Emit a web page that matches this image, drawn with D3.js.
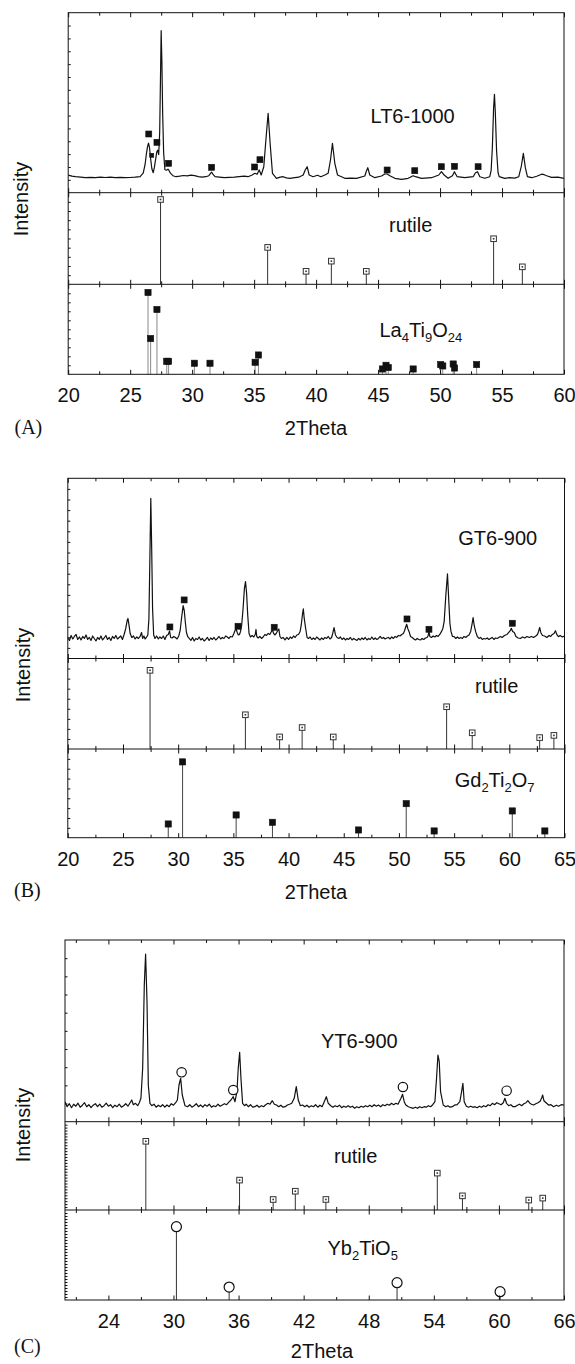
<!DOCTYPE html>
<html><head><meta charset="utf-8">
<script src="https://cdn.jsdelivr.net/npm/d3@7"></script>
<style>body{margin:0;background:#fff}svg{display:block}</style>
</head><body><svg id="c" width="575" height="1364"></svg>
<script>
// ---------------- DATA (2Theta, intensity a.u.) ----------------
const lt6Pattern = [[20.0,17.5],[20.3,16.5],[20.6,16],[21.0,15.5],[21.4,15],[21.8,15.3],[22.2,15],[22.6,15.5],[23.0,15.2],[23.4,15.6],[23.8,15],[24.2,15.3],[24.6,15],[25.0,15.2],[25.4,15.5],[25.8,16],[26.05,19.5],[26.2,28],[26.3,38],[26.4,46],[26.48,49.5],[26.56,45],[26.65,34],[26.75,24],[26.86,20],[26.95,25],[27.05,33],[27.15,41],[27.22,42.5],[27.3,38],[27.38,60],[27.44,110],[27.5,162],[27.56,130],[27.62,80],[27.7,40],[27.8,23],[27.93,22.5],[28.05,23.5],[28.12,22.5],[28.25,19.5],[28.45,17],[28.7,16],[29.0,16.5],[29.3,17.2],[29.6,16.8],[29.9,17.5],[30.2,17],[30.5,16],[30.8,15.5],[31.1,16],[31.35,17],[31.5,19.5],[31.58,20.5],[31.7,18],[31.85,16],[32.2,15.5],[32.6,15],[33.0,15.3],[33.4,15.5],[33.8,16],[34.2,16.5],[34.5,16],[34.8,17.5],[35.06,19.4],[35.24,18.4],[35.41,22.7],[35.57,17.7],[35.78,26],[35.97,56],[36.13,79.4],[36.29,49.4],[36.48,19.4],[36.8,14.4],[37.1,15.5],[37.34,16],[37.6,14.8],[37.88,14.4],[38.29,15],[38.6,15.5],[38.96,17.7],[39.12,22.7],[39.28,26],[39.44,17.7],[39.76,16],[40.11,17.4],[40.38,16],[40.71,17.7],[40.97,19.4],[41.16,32.7],[41.32,49.4],[41.51,29.4],[41.73,17.7],[42.32,14.4],[42.8,14.6],[43.26,14.4],[43.93,16.7],[44.04,21],[44.17,25],[44.33,17.7],[44.74,15],[45.28,16.7],[45.54,18.7],[45.73,18.7],[45.95,17],[46.35,14.4],[46.89,13.4],[47.43,14.4],[47.83,17],[48.02,16],[48.5,14.4],[49.31,15],[49.9,17.7],[50.11,21],[50.33,17.7],[50.65,14.4],[51.0,17],[51.16,21],[51.38,16],[52.0,15],[52.67,16],[52.86,20],[53.02,21],[53.21,16],[53.61,14.4],[54.01,16],[54.12,22],[54.22,45],[54.32,85],[54.39,98.4],[54.46,80],[54.56,42],[54.68,20],[54.77,16],[55.22,14.4],[55.6,15],[56.03,14.6],[56.35,16],[56.55,26],[56.72,39.4],[56.88,25],[57.05,16],[57.4,15],[57.8,16.5],[58.0,17.5],[58.2,18.5],[58.4,18],[58.6,17],[59.0,15.3],[59.5,15.5],[60.0,14.4]];

const gt6Pattern = [[20.0,21],[20.15,18],[20.3,23],[20.45,19.5],[20.6,22],[20.75,24],[20.9,19],[21.05,21.5],[21.2,18.5],[21.35,22],[21.5,20],[21.65,23.5],[21.8,19],[21.95,21],[22.1,18],[22.25,22.5],[22.4,20],[22.55,17.5],[22.7,21],[22.85,19],[23.0,22.5],[23.15,18.5],[23.3,20.5],[23.45,23],[23.6,19],[23.75,21],[23.9,18],[24.05,22],[24.2,20],[24.35,23],[24.5,19.5],[24.65,21],[24.8,22.5],[24.95,19],[25.1,24],[25.25,30],[25.38,38],[25.45,40],[25.55,33],[25.65,25],[25.8,21],[25.95,22.5],[26.1,19.5],[26.25,21.5],[26.4,20],[26.55,22],[26.68,26],[26.78,20],[26.9,22.5],[27.0,19.5],[27.12,21],[27.25,23.5],[27.35,40],[27.45,110],[27.52,160],[27.6,110],[27.68,50],[27.78,23.5],[27.9,20],[28.05,22.5],[28.2,19.5],[28.35,21.5],[28.5,20],[28.65,22.5],[28.8,19],[28.95,23],[29.1,24],[29.22,27.5],[29.32,21],[29.45,20.5],[29.6,22],[29.75,21],[29.9,19.5],[30.05,22.5],[30.18,28],[30.3,40],[30.45,52.8],[30.55,48],[30.65,36],[30.75,26],[30.88,21.5],[31.0,20],[31.15,18],[31.3,21],[31.45,17.5],[31.6,20],[31.75,19],[31.9,21.5],[32.05,18.5],[32.2,20],[32.35,17.5],[32.5,19],[32.65,21],[32.8,18],[32.95,20.5],[33.1,19],[33.25,21],[33.4,18.5],[33.55,20],[33.7,22],[33.85,19.5],[34.0,21],[34.15,20],[34.3,22.5],[34.45,21.5],[34.6,20],[34.75,22],[34.9,21.5],[35.05,25],[35.15,28],[35.25,29.5],[35.35,26],[35.45,23.5],[35.55,24],[35.65,27],[35.75,33],[35.88,50],[36.0,70],[36.1,76.8],[36.2,65],[36.3,43.5],[36.42,25],[36.55,21.5],[36.7,23],[36.85,21.5],[36.98,24],[37.05,29],[37.12,22],[37.25,20.5],[37.4,22],[37.55,20],[37.7,21.5],[37.85,24],[38.0,23],[38.15,25],[38.3,24],[38.45,27],[38.55,28.5],[38.65,25],[38.75,23.5],[38.88,25],[39.0,27.5],[39.12,29.5],[39.22,22],[39.35,20],[39.5,21],[39.68,18.5],[39.85,21],[40.0,19],[40.15,21.5],[40.3,20],[40.45,22.5],[40.6,21],[40.75,23.5],[40.9,24],[41.05,27],[41.15,33.5],[41.27,45],[41.34,49.5],[41.42,40],[41.55,30],[41.68,21],[41.8,20],[41.95,21.5],[42.1,19],[42.25,20.5],[42.4,19],[42.55,21.5],[42.7,20],[42.85,18.5],[43.0,20.5],[43.15,19],[43.3,21],[43.45,20],[43.6,22],[43.75,19.5],[43.9,21],[44.0,25],[44.12,30.8],[44.25,23.5],[44.4,21],[44.55,20],[44.7,21.5],[44.85,19],[45.0,20.5],[45.15,18.5],[45.3,20],[45.45,19],[45.6,21],[45.75,18.5],[45.9,20],[46.05,19],[46.2,18],[46.35,20],[46.5,18.5],[46.65,20.5],[46.8,19],[46.95,21],[47.1,18.5],[47.25,20],[47.4,19],[47.55,21.5],[47.7,19],[47.85,20.5],[48.0,19],[48.15,20],[48.3,22],[48.45,20],[48.6,21],[48.75,19.5],[48.9,20.5],[49.05,21],[49.2,19.5],[49.35,21.5],[49.5,20],[49.65,22],[49.8,21],[49.95,23],[50.1,22.5],[50.25,24],[50.4,25],[50.5,27.5],[50.6,31],[50.7,34.2],[50.8,30],[50.92,26.8],[51.05,22],[51.2,21],[51.35,19.5],[51.5,18.5],[51.65,20],[51.8,19],[51.95,18.5],[52.1,20],[52.25,19],[52.4,20.5],[52.55,21],[52.65,23],[52.72,26.8],[52.8,22],[52.95,21],[53.1,22.5],[53.25,21.5],[53.4,23],[53.55,22],[53.7,24],[53.85,26.8],[53.98,30],[54.1,37],[54.25,63.5],[54.4,84.5],[54.52,56.8],[54.62,35],[54.72,26.8],[54.85,22],[55.0,21.8],[55.15,20],[55.3,21.5],[55.45,20],[55.6,21],[55.75,20],[55.9,22],[56.05,21],[56.2,22.5],[56.35,23.5],[56.5,27],[56.62,34],[56.72,40.8],[56.82,33],[56.95,26.8],[57.1,22],[57.25,20],[57.4,21],[57.55,19],[57.7,20],[57.85,19.5],[58.0,20.5],[58.15,19],[58.3,20],[58.45,21],[58.6,19],[58.75,20.5],[58.9,20],[59.05,21],[59.2,22],[59.35,21],[59.5,22.5],[59.65,23.5],[59.8,24],[59.95,26],[60.1,28],[60.18,30.2],[60.3,27],[60.45,26],[60.6,22],[60.8,20.5],[61.0,20],[61.2,21.5],[61.4,20.5],[61.6,22],[61.8,21],[62.0,22],[62.2,21],[62.4,22.5],[62.55,24],[62.65,27],[62.75,31],[62.85,26],[63.0,23],[63.2,22.5],[63.4,21],[63.6,23],[63.75,22],[63.9,24],[64.05,25],[64.18,27.8],[64.3,24],[64.45,21.8],[64.6,23],[64.8,21.5],[65.0,22.5]];

const yt6Pattern = [[20.0,20],[20.2,15],[20.4,18],[20.6,14],[20.8,17.5],[21.0,15.5],[21.2,18.5],[21.4,14.5],[21.6,16.5],[21.8,19],[22.0,15],[22.2,17],[22.4,14],[22.6,16.5],[22.8,18],[23.0,15],[23.2,17.5],[23.4,14.5],[23.6,16],[23.8,18.5],[24.0,15.5],[24.2,17],[24.4,14],[24.6,16.5],[24.8,15],[25.0,17.5],[25.2,14.5],[25.4,16],[25.6,18],[25.8,15.5],[26.0,19],[26.15,21.7],[26.3,17],[26.5,18.4],[26.7,16],[26.85,19],[27.0,23.4],[27.16,53.4],[27.31,136.7],[27.43,167.7],[27.56,120],[27.68,36.7],[27.83,18.4],[28.0,16],[28.2,17.5],[28.4,14.5],[28.6,16.5],[28.8,15],[29.0,17],[29.2,14.5],[29.4,16.7],[29.6,15],[29.8,18],[30.0,16.5],[30.2,19],[30.36,21.7],[30.51,36.7],[30.66,43.4],[30.81,26.7],[31.06,16],[31.3,15],[31.5,17],[31.7,14.5],[31.9,16],[32.1,18],[32.3,15],[32.5,16.7],[32.7,14.5],[32.9,17],[33.1,15.5],[33.3,17.5],[33.5,14.5],[33.7,16],[33.9,15],[34.1,17.5],[34.3,15.5],[34.5,16.7],[34.7,18],[34.9,17],[35.1,19.5],[35.3,21.7],[35.51,25],[35.67,20],[35.85,30],[35.97,53.4],[36.1,69.4],[36.22,43.4],[36.37,18.4],[36.55,16],[36.7,17.5],[36.9,15],[37.1,17],[37.3,14.5],[37.5,15],[37.7,16.5],[37.9,14.5],[38.1,16],[38.3,15],[38.5,17],[38.7,18.4],[38.9,17.5],[39.11,21],[39.3,17.5],[39.5,16.7],[39.7,15],[39.9,16.5],[40.1,14.5],[40.3,15],[40.5,16.7],[40.7,17.5],[40.9,18.4],[41.13,23.4],[41.32,35],[41.5,21.7],[41.7,16],[41.9,16.7],[42.1,15],[42.3,16.5],[42.5,14.5],[42.7,16],[42.9,15],[43.1,17],[43.3,14.5],[43.5,16.5],[43.7,15],[43.9,20],[44.09,25],[44.27,18.4],[44.5,16],[44.7,14.5],[44.9,16],[45.1,15],[45.3,16.5],[45.5,14],[45.7,15.5],[45.9,14.5],[46.1,16],[46.3,14.4],[46.5,15.5],[46.7,13.5],[46.9,15],[47.1,14],[47.3,15.5],[47.5,14.5],[47.7,16],[47.9,15],[48.1,16.5],[48.3,15],[48.5,17],[48.7,15.5],[48.9,16.7],[49.1,15],[49.3,17],[49.5,16],[49.7,17.5],[49.9,16.5],[50.1,18.4],[50.3,17],[50.5,18.4],[50.7,17.5],[50.97,23.4],[51.12,27.4],[51.27,20],[51.4,17],[51.65,15],[51.9,14],[52.1,13.4],[52.3,14.5],[52.5,13.4],[52.7,15],[52.9,14],[53.1,15],[53.3,14.5],[53.5,16],[53.7,15],[53.9,17],[54.1,20],[54.25,43.4],[54.38,66.7],[54.5,60],[54.62,30],[54.87,16.7],[55.1,15],[55.3,16],[55.5,14.5],[55.7,15],[55.9,16.5],[56.15,17],[56.4,20],[56.56,30],[56.68,38.4],[56.8,20],[57.0,15.5],[57.2,14.5],[57.4,15.5],[57.6,14.4],[57.8,15],[58.0,14],[58.2,15.5],[58.4,14.5],[58.6,16],[58.8,15],[59.0,17],[59.2,16],[59.4,18.4],[59.6,17],[59.8,19],[60.0,18],[60.2,17],[60.4,19],[60.55,23.4],[60.7,18.4],[60.9,16],[61.1,17],[61.3,15],[61.5,15],[61.7,16.5],[61.9,17.5],[62.1,16],[62.3,18],[62.5,19],[62.67,21],[62.85,18.5],[63.0,17.5],[63.2,16.7],[63.4,18],[63.6,19],[63.8,20.5],[63.95,24],[64.03,26.7],[64.15,21],[64.4,18.4],[64.6,16.5],[64.8,17],[65.04,15],[65.3,16.5],[65.5,15.5],[65.75,17],[66.0,16.7]];

// phase markers on the measured patterns
const lt6MarkTheta = [26.5, 26.74, 27.16, 28.1, 31.57, 35.04, 35.47, 45.73, 47.96, 50.1, 51.16, 53.07];
const lt6MarkInt   = [58.7, 37.4, 50.4, 29.4, 25.4, 25.7, 33, 22.7, 22, 26, 26.4, 26];
const lt6MarkSize  = [6, 4, 6, 6, 6, 6, 6, 6, 6, 6, 6, 6];
const gt6MarkTheta = [29.25, 30.54, 35.42, 38.7, 50.73, 52.72, 60.27];
const gt6MarkInt   = [31.5, 58.5, 32.2, 31.2, 39.5, 29.2, 35.2];
const yt6MarkTheta = [30.75, 35.51, 51.15, 60.71];
const yt6MarkInt   = [49.4, 31.7, 34.7, 31];

// reference patterns (relative intensity)
const rutileTheta = [27.45, 36.09, 39.19, 41.23, 44.05, 54.32, 56.64, 62.75, 64.04];
const rutileInt   = [100, 43.5, 15.3, 27.3, 15.3, 53.7, 20.6, 14.5, 17.3];
const la4Theta = [26.44, 26.65, 27.16, 27.95, 28.1, 30.18, 31.44, 35.08, 35.35, 45.35, 45.64, 45.82, 47.83, 50.05, 50.22, 51.06, 51.17, 52.95];
const la4Int   = [100, 43.7, 79.2, 15.9, 15.9, 13.5, 13.5, 14.7, 23.6, 6.5, 11, 8.2, 6.5, 11.9, 10.2, 12.6, 7.7, 11.9];
const gdTheta = [29.1, 30.4, 35.25, 38.54, 46.34, 50.66, 53.19, 60.27, 63.22];
const gdInt   = [18.1, 100, 30, 20.3, 10.2, 44.9, 8.9, 35.3, 8.9];
const ybTheta = [30.27, 35.13, 50.61, 60.11];
const ybInt   = [100, 17.7, 23.6, 11.3];

// axis ticks
const ticksA = {major: [20,25,30,35,40,45,50,55,60], minor: [22.5,27.5,32.5,37.5,42.5,47.5,52.5,57.5]};
const ticksB = {major: [20,25,30,35,40,45,50,55,60,65], minor: [22.5,27.5,32.5,37.5,42.5,47.5,52.5,57.5,62.5]};
const ticksC = {major: [24,30,36,42,48,54,60,66], minor: [21,27,33,39,45,51,57,63]};

// ---------------- DRAWING ----------------
const SANS = "'Liberation Sans', Arial, Helvetica, sans-serif";
const SERIF = "'Liberation Serif', 'Times New Roman', serif";
const svg = d3.select('#c');

const panels = [
  {tag:'(A)', xDomain:[20,60], left:68.2, right:564, top:12.7, div1:192.7, div2:284.3, bottom:374.3,
   ticks: ticksA, maxes:[180,108,110], leftN:[14,10,10],
   pattern: lt6Pattern, mTheta: lt6MarkTheta, mInt: lt6MarkInt, mSize: lt6MarkSize, mShape:'square',
   ref: {theta: la4Theta, val: la4Int, shape:'square', stem:'#8a8a8a'},
   sample:{t:'LT6-1000', x:370.5, y:122.7},
   rut:{x:389, y:231.7},
   formula:{parts:[['La',0],['4',1],['Ti',0],['9',1],['O',0],['24',1]], x:379.5, y:337},
   ylab:{x:28, y:199}, xlab:{x:316, y:435}, tagPos:{x:14.5, y:434}},
  {tag:'(B)', xDomain:[20,65], left:67.8, right:564.5, top:478.3, div1:658.5, div2:749, bottom:837.7,
   ticks: ticksB, maxes:[180,115,117], leftN:[17,9,9],
   pattern: gt6Pattern, mTheta: gt6MarkTheta, mInt: gt6MarkInt, mSize: null, mShape:'square',
   ref: {theta: gdTheta, val: gdInt, shape:'square', stem:'#444'},
   sample:{t:'GT6-900', x:458.3, y:545},
   rut:{x:475, y:693.3},
   formula:{parts:[['Gd',0],['2',1],['Ti',0],['2',1],['O',0],['7',1]], x:454.7, y:787},
   ylab:{x:30, y:665}, xlab:{x:316, y:899}, tagPos:{x:14, y:897}},
  {tag:'(C)', xDomain:[20,66], left:65, right:564, top:940, div1:1121.7, div2:1210, bottom:1300,
   ticks: ticksC, maxes:[181.7,128.5,122.8], leftN:[10,30,30],
   pattern: yt6Pattern, mTheta: yt6MarkTheta, mInt: yt6MarkInt, mSize: null, mShape:'circle',
   ref: {theta: ybTheta, val: ybInt, shape:'circle', stem:'#333'},
   sample:{t:'YT6-900', x:321, y:1048.3},
   rut:{x:334, y:1163.3},
   formula:{parts:[['Yb',0],['2',1],['TiO',0],['5',1]], x:327.5, y:1255},
   ylab:{x:30, y:1125}, xlab:{x:322, y:1358}, tagPos:{x:14, y:1353}}
];

function drawSquare(g, cx, cy, s, filled) {
  g.append('rect').attr('x', cx - s/2).attr('y', cy - s/2).attr('width', s).attr('height', s)
    .attr('fill', filled ? '#111' : '#fff').attr('stroke', filled ? '#111' : '#333').attr('stroke-width', filled ? 0.6 : 1);
  if (!filled) g.append('rect').attr('x', cx - 0.8).attr('y', cy - 0.8).attr('width', 1.6).attr('height', 1.6).attr('fill', '#333');
}
function drawCircle(g, cx, cy, r) {
  g.append('circle').attr('cx', cx).attr('cy', cy).attr('r', r).attr('fill', '#fff').attr('stroke', '#111').attr('stroke-width', 1.2);
}

panels.forEach(p => {
  const g = svg.append('g');
  const x = d3.scaleLinear().domain(p.xDomain).range([p.left, p.right]);
  const bands = [[p.top, p.div1], [p.div1, p.div2], [p.div2, p.bottom]];
  const ys = bands.map((b, i) => d3.scaleLinear().domain([0, p.maxes[i]]).range([b[1], b[0]]));

  // measured pattern
  const clipId = 'clip' + p.tag.replace(/\W/g, '');
  svg.append('clipPath').attr('id', clipId).append('rect')
    .attr('x', p.left).attr('y', p.top).attr('width', p.right - p.left).attr('height', p.div1 - p.top);
  g.append('path').datum(p.pattern)
    .attr('clip-path', `url(#${clipId})`)
    .attr('d', d3.line().x(d => x(d[0])).y(d => ys[0](d[1])))
    .attr('fill', 'none').attr('stroke', '#111').attr('stroke-width', 1.2).attr('stroke-linejoin', 'round');

  // markers on the measured pattern
  p.mTheta.forEach((t, i) => {
    if (p.mShape === 'square') drawSquare(g, x(t), ys[0](p.mInt[i]), p.mSize ? p.mSize[i] : 6, true);
    else drawCircle(g, x(t), ys[0](p.mInt[i]), 4.7);
  });

  // rutile reference
  rutileTheta.forEach((t, i) => {
    if (t > p.xDomain[1]) return;
    g.append('line').attr('x1', x(t)).attr('x2', x(t)).attr('y1', ys[1](0)).attr('y2', ys[1](rutileInt[i]))
      .attr('stroke', '#333').attr('stroke-width', 1);
  });
  rutileTheta.forEach((t, i) => {
    if (t > p.xDomain[1]) return;
    drawSquare(g, x(t), ys[1](rutileInt[i]), 5.6, false);
  });

  // phase reference
  p.ref.theta.forEach((t, i) => {
    g.append('line').attr('x1', x(t)).attr('x2', x(t)).attr('y1', ys[2](0)).attr('y2', ys[2](p.ref.val[i]))
      .attr('stroke', p.ref.stem).attr('stroke-width', 1);
  });
  p.ref.theta.forEach((t, i) => {
    if (p.ref.shape === 'square') drawSquare(g, x(t), ys[2](p.ref.val[i]), 6.2, true);
    else drawCircle(g, x(t), ys[2](p.ref.val[i]), 5);
  });

  // frame
  g.append('rect').attr('x', p.left).attr('y', p.top).attr('width', p.right - p.left).attr('height', p.bottom - p.top)
    .attr('fill', 'none').attr('stroke', '#111').attr('stroke-width', 1);
  [p.div1, p.div2].forEach(yy => g.append('line').attr('x1', p.left).attr('x2', p.right).attr('y1', yy).attr('y2', yy)
    .attr('stroke', '#111').attr('stroke-width', 1));

  // x ticks (inward) on every band edge
  const styleAxis = a => { a.select('.domain').remove(); a.selectAll('line').attr('stroke', '#111'); };
  bands.forEach((b, i) => {
    [['major', 4.5], ['minor', 3]].forEach(([k, len]) => {
      g.append('g').attr('transform', `translate(0,${b[0]})`)
        .call(d3.axisTop(x).tickValues(p.ticks[k]).tickSizeInner(-len).tickSizeOuter(0).tickFormat(''))
        .call(styleAxis);
      const ab = d3.axisBottom(x).tickValues(p.ticks[k]).tickSizeInner(-len).tickSizeOuter(0);
      const isLast = i === 2 && k === 'major';
      ab.tickFormat(isLast ? d3.format('d') : '').tickPadding(14);
      const ag = g.append('g').attr('transform', `translate(0,${b[1]})`).call(ab).call(styleAxis);
      ag.selectAll('text').attr('font-family', SANS).attr('font-size', 20).attr('fill', '#111');
    });
    // left ticks
    const n = p.leftN[i];
    const vals = d3.range(1, n).map(j => p.maxes[i] * j / n);
    g.append('g').attr('transform', `translate(${p.left},0)`)
      .call(d3.axisLeft(ys[i]).tickValues(vals).tickSizeInner(-2.5).tickSizeOuter(0).tickFormat(''))
      .call(styleAxis);
  });

  // texts
  const txt = (t, xx, yy, opts = {}) => g.append('text').attr('x', xx).attr('y', yy).text(t)
    .attr('font-family', opts.family || SANS).attr('font-size', opts.size || 20).attr('fill', '#111')
    .attr('text-anchor', opts.anchor || 'start');
  txt(p.sample.t, p.sample.x, p.sample.y);
  txt('rutile', p.rut.x, p.rut.y);
  const f = g.append('text').attr('x', p.formula.x).attr('y', p.formula.y)
    .attr('font-family', SANS).attr('font-size', 20).attr('fill', '#111');
  let prevSub = 0;
  p.formula.parts.forEach(([s, sub]) => {
    const ts = f.append('tspan').text(s).attr('font-size', sub ? 13 : 20);
    const dy = (sub ? 5 : 0) - (prevSub ? 5 : 0);
    if (dy) ts.attr('dy', dy);
    prevSub = sub;
  });
  g.append('text').attr('transform', `translate(${p.ylab.x},${p.ylab.y}) rotate(-90)`)
    .attr('text-anchor', 'middle').attr('font-family', SANS).attr('font-size', 20).attr('fill', '#111').text('Intensity');
  txt('2Theta', p.xlab.x, p.xlab.y, {anchor: 'middle'});
  txt(p.tag, p.tagPos.x, p.tagPos.y, {family: SERIF});
});
</script></body></html>
